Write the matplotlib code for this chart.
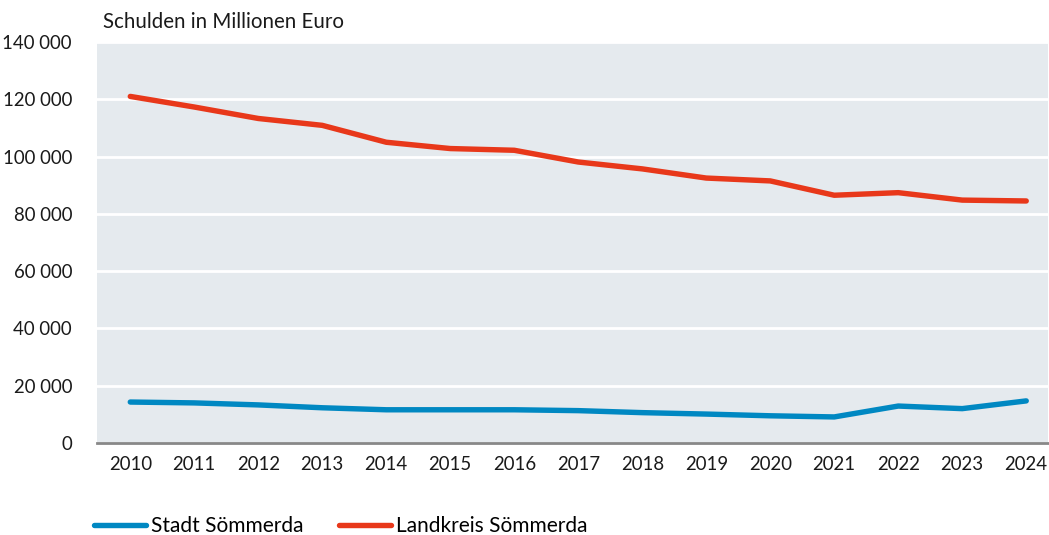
import matplotlib
matplotlib.use("Agg")
import matplotlib.pyplot as plt
from matplotlib.ticker import FuncFormatter

plt.rcParams['font.family'] = ['Lato', 'DejaVu Sans']

years = list(range(2010, 2025))
stadt = [14300, 14000, 13300, 12300, 11600, 11600, 11600, 11300, 10600,
         10100, 9500, 9100, 12900, 12000, 14700]
landkreis = [121000, 117300, 113300, 110900, 105000, 102800, 102200, 98100,
             95700, 92500, 91500, 86500, 87400, 84800, 84500]
y_ticks = [0, 20000, 40000, 60000, 80000, 100000, 120000, 140000]

BLUE = "#0088c2"
RED = "#e8381a"
BG = "#e5eaee"

fig = plt.figure(figsize=(10.49, 5.35), dpi=100)
ax = fig.add_axes([97 / 1049, (535 - 443) / 535, 951 / 1049, 401 / 535])
ax.set_facecolor(BG)

ax.plot(years, stadt, color=BLUE, lw=3.9, solid_capstyle='round',
        solid_joinstyle='round', label="Stadt Sömmerda", zorder=3)
ax.plot(years, landkreis, color=RED, lw=3.9, solid_capstyle='round',
        solid_joinstyle='round', label="Landkreis Sömmerda", zorder=3)

ax.set_xlim(2009.48, 2024.34)
ax.set_ylim(0, 140000)
ax.set_xticks(years)
ax.set_yticks(y_ticks)
ax.yaxis.set_major_formatter(FuncFormatter(lambda v, p: f"{int(v):,}".replace(",", " ")))
ax.grid(axis='y', color='white', lw=2)
ax.set_axisbelow(True)
for s in ['top', 'right', 'left']:
    ax.spines[s].set_visible(False)
ax.spines['bottom'].set_color('#888888')
ax.spines['bottom'].set_linewidth(2)
ax.tick_params(axis='both', length=0, labelsize=13.4, colors='#1a1a1a')
ax.tick_params(axis='y', pad=18)
ax.tick_params(axis='x', pad=9)

fig.text(103 / 1049, 1 - 22 / 535, "Schulden in Millionen Euro", fontsize=14.8,
         va='center', ha='left', color='#1a1a1a')

fig.legend(loc='center left', bbox_to_anchor=(94 / 1049, 1 - 526 / 535),
           ncol=2, frameon=False, fontsize=15, handlelength=2.5,
           handletextpad=0.25, columnspacing=1.7, borderpad=0,
           borderaxespad=0)

fig.savefig("out.png", dpi=100)
